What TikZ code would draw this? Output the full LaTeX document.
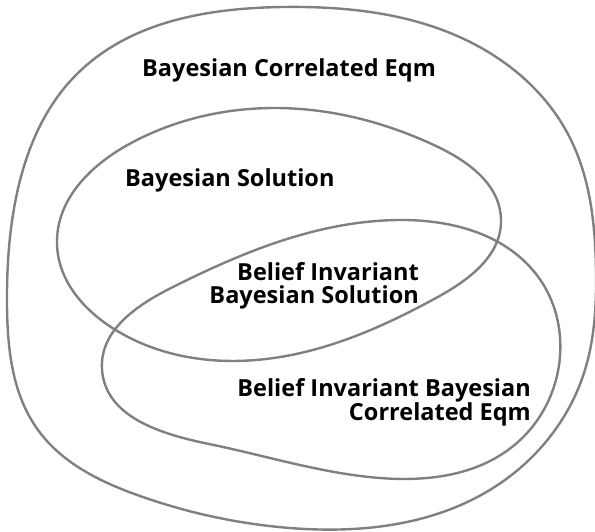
\documentclass[tikz,border=0pt]{standalone}
\usepackage{fontspec}
\setmainfont{Open Sans}
\usepackage{xcolor}
\usetikzlibrary{hobby}
\definecolor{setgray}{HTML}{808080}

\begin{document}
\begin{tikzpicture}[
  x=1pt, y=-1pt,
  setline/.style={draw=setgray, line width=2.4pt, use Hobby shortcut, closed=true},
  lbl/.style={font=\fontsize{23.5}{24}\selectfont\bfseries, inner sep=0pt, anchor=base west},
  lblr/.style={lbl, anchor=base east, align=right}
]
  \useasboundingbox (0,0) rectangle (595,531);
  % outer set
  \draw[setline] (283,7) .. (76,75) .. (15,203) .. (7,305) .. (38,430)
    .. (140,496) .. (290,528) .. (493,488) .. (584,373) .. (596,270)
    .. (569,136) .. (474,44) .. (283,7);
  % Bayesian solution
  \draw[setline] (57,244) .. (133,142) .. (273,108) .. (436,146) .. (501,220)
    .. (436,298) .. (266,359) .. (114,329) .. (57,244);
  % belief invariant
  \draw[setline] (398,220) .. (539,278) .. (560,356) .. (512,447) .. (380,478)
    .. (209,444) .. (102,369) .. (171,288) .. (398,220);

  \node[lbl] (bce) at (142,76) {Bayesian Correlated Eqm};
  \node[lbl] (bs) at (125,186) {Bayesian Solution};
  \node[lblr] (bibs) at (419,280) {Belief Invariant};
  \node[lblr] (bibs2) at (419,303) {Bayesian Solution};
  \node[lblr] (bibce) at (531,396) {Belief Invariant Bayesian};
  \node[lblr] (bibce2) at (531,420) {Correlated Eqm};
\end{tikzpicture}
\end{document}
